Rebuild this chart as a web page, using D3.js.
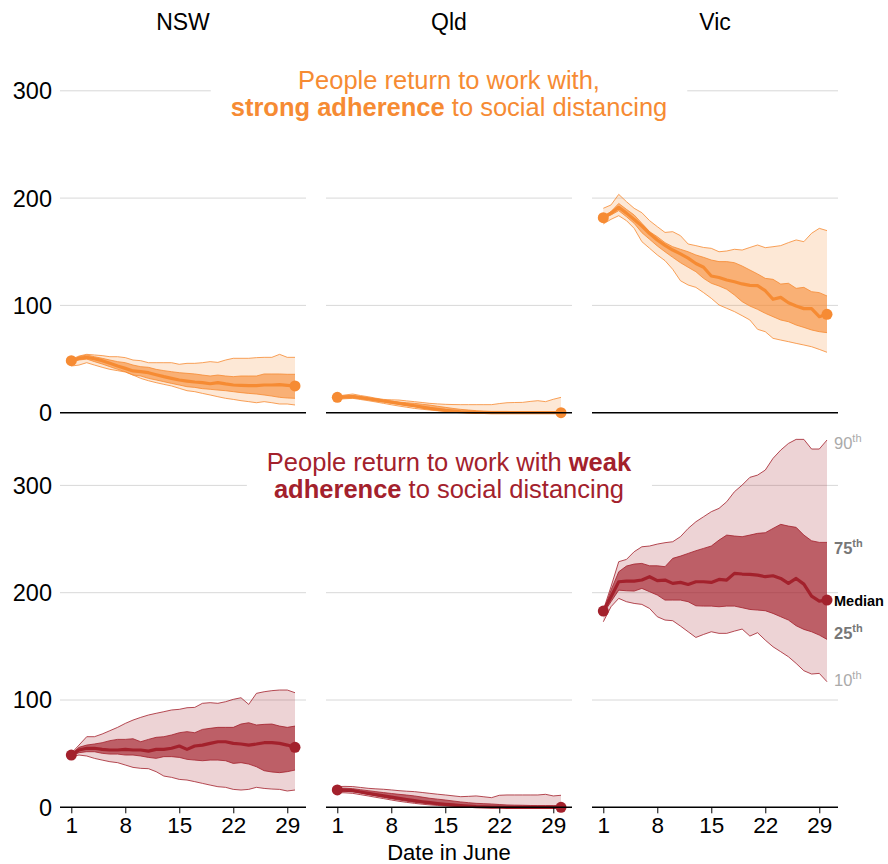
<!DOCTYPE html>
<html>
<head>
<meta charset="utf-8">
<script src="https://cdn.jsdelivr.net/npm/d3@7"></script>
<style>
  body { margin: 0; background: #fff; }
  svg text { font-family: "Liberation Sans", Arial, Helvetica, sans-serif; }
</style>
</head>
<body>
<div id="chart"></div>
<script>
// days in June
const days = [1,2,3,4,5,6,7,8,9,10,11,12,13,14,15,16,17,18,19,20,21,22,23,24,25,26,27,28,29,30];
const dayTicks = [1, 8, 15, 22, 29];
const yTicks = [0, 100, 200, 300];
const states = ["NSW", "Qld", "Vic"];

// strong adherence (top row)
const nswStrongP90 = [49.7,52.8,54.4,53.8,53.2,52.2,52.2,51.3,49.1,48.5,46.6,46.6,46.6,46.6,45.1,46,46,46.6,47.6,46.9,49.1,50.7,50.7,50.7,51.3,51.6,51.6,54.4,51.6,51.6];
const nswStrongP75 = [48.5,52.2,53.8,52.2,50.7,49.1,47.6,46.6,44.4,42.9,42.3,40.4,39.2,38.2,37.3,36.7,36.1,35.1,34.2,35.1,34.2,33.6,34.2,34.2,34.2,36.1,36.1,36.1,35.8,35.8];
const nswStrongMed = [48.5,50.7,51.6,50.3,48.5,46,43.5,41.3,38.9,38.2,37.3,35.4,33.6,32,30.5,29.5,28.6,28,27,28,26.8,25.8,25.5,25.2,25.2,25.8,25.8,26.1,25.5,24.9];
const nswStrongP25 = [46.6,49.1,50,47.6,45.4,42.9,40.4,38.2,35.1,34.2,32,30.5,28.9,27.3,25.8,24.2,23.6,22.4,21.8,21.1,20.5,19.6,18.7,18,17.4,16.5,15.5,14.3,13.7,13.4];
const nswStrongP10 = [43.5,44.4,46.6,44.4,42.3,40.4,39.2,37.9,35.1,32,29.8,28,26.4,24.9,22.7,20.5,19.6,18,16.5,14.9,13.4,12.4,11.2,10.3,9.3,10.3,9.3,8.1,8.1,7.2];

const qldStrongP90 = [15.5,16.5,17.4,16,14.9,13.5,12.4,12,11.8,11,10.3,9.5,8.7,8.2,7.8,7.6,7.5,7.5,7.5,7.5,7.5,8.5,9.3,9.5,9.6,10.5,11.2,10.3,12.5,14.3];
const qldStrongP75 = [14.9,15.6,16.2,15,14,12.9,11.8,10.8,9.9,9.3,8.7,7.9,7.1,6,5,4,3.1,2.5,1.9,1.5,1.2,1.2,1.2,1,0.9,0.9,0.9,0.8,0.7,0.6];
const qldStrongMed = [14.3,14.8,14.9,14,13,12,10.9,9.8,8.7,7.6,6.5,5.2,4,3.1,2.2,1.5,0.9,0.6,0.3,0.2,0.1,0,0,0,0,0,0,0,0,0];
const qldStrongP25 = [13.4,13.8,14,13,12.1,11,9.9,8.8,7.8,6.7,5.6,4.5,3.4,2.6,1.9,1.2,0.6,0.3,0,0,0,0,0,0,0,0,0,0,0,0];
const qldStrongP10 = [12.4,13,13.4,12.3,11.2,10,8.7,7.4,6.2,5.1,4,3.2,2.5,1.8,1.2,0.7,0.3,0,0,0,0,0,0,0,0,0,0,0,0,0];

const vicStrongP90 = [190.5,193.6,203.5,196.7,190.5,186.4,179,173.4,168,168.7,165,157.2,155.7,154,153.2,150,150.7,152.3,151.6,154,156.3,153.8,154.7,155.7,158.5,161,159.4,167.2,171.8,169.7];
const vicStrongP75 = [182.7,187.4,195,189.5,184.3,176.5,168.7,164,158.5,154.7,152.3,150,147,144.8,142.3,140.8,140.8,139.8,136.7,133,129.3,125.2,124.3,119.9,120.6,115.9,116.8,112.8,111.9,108.8];
const vicStrongMed = [181.7,186,191.4,186,180,174,167,161,156,151.6,148,144,139,135.5,127.4,126,123.7,122,120,118.7,118.4,113.7,105.7,107.5,102.5,99.4,97,97,89.5,91.7];
const vicStrongP25 = [181.1,184.3,188.3,182.7,176.5,167.8,161.6,155.4,150,144.8,139.8,135.5,131.4,125.2,120.6,118.1,115,109.7,103.5,99.4,96.3,92.6,89.5,86.4,84.8,81.7,79.5,77.1,75.5,74.6];
const vicStrongP10 = [175.9,180.2,183.6,179,171.8,159.4,153.2,147,141.7,133.6,123,119,116.8,111.9,106.6,100.4,97.3,94.2,90.4,86.4,77.7,75.5,69.3,67.7,66.2,64.6,63.1,61.5,59,56.3];

// weak adherence (bottom row)
const nswWeakP90 = [50.3,58,65.8,65.8,68.3,71.4,74.5,78.2,81.3,83.8,86,87.6,89.1,90.7,91.3,92.8,93.1,96.9,97.5,96.9,98.4,100.6,102.1,95.9,106.2,107.7,108.7,109.3,109.3,106.8];
const nswWeakP75 = [49.6,55.9,58,59,60.2,62.1,63.3,63.3,63.9,61.1,63.3,65.2,65.8,67.4,69.5,70.5,69.5,72.6,73.6,74.5,74.5,74.5,77.6,78.8,76.7,77.3,77.6,75.7,74.5,75.7];
const nswWeakMed = [48.7,53.4,55,55,54,53.4,53.4,54,53.4,53.4,52.4,54,54,55,57.1,54,57.1,58,59.6,61.1,61.1,59.6,59,58,59,60.2,60.2,59.6,58,55.9];
const nswWeakP25 = [47.8,50.9,51.8,51.8,50.3,49.6,49.6,48.7,48.7,47.8,46.5,45.6,47.2,47.2,46.5,44.7,44,43.4,44,44,43.4,40.9,41.6,40.3,37.8,34.1,32.9,32.3,33.2,34.7];
const nswWeakP10 = [47.2,48.7,47.8,45.6,44,42.5,41.6,39.4,37.2,36.3,36,33.2,29.1,27.9,26,25.4,23.9,22.3,20.7,19.2,18.6,16.7,16.1,16.7,18.6,17.6,17,16.7,15.2,16.1];

const qldWeakP90 = [19.3,19.5,19.3,18.5,17.7,17.2,16.8,16.2,15.5,15,14.6,13.8,13,12.2,11.5,10.7,9.9,10.2,10.6,9.8,9,11.2,11.5,11.5,11.5,11.5,11.5,12.1,10.6,11.2];
const qldWeakP75 = [17.7,17.8,17.4,16.4,15.5,14.6,13.7,12.9,12.1,11.4,10.6,9.5,8.4,7.6,6.8,5.9,5,4.3,3.7,3.4,3.1,2.6,2.2,2,1.9,1.7,1.6,1.6,1.6,1.6];
const qldWeakMed = [16.2,16,15.5,14.3,13,11.8,10.6,9.5,8.4,7.3,6.2,5.2,4.3,3.5,2.8,2.2,1.6,1.1,0.6,0.4,0.2,0.1,0,0,0,0,0,0,0,0];
const qldWeakP25 = [14.6,14.8,14.6,13.4,12.1,10.7,9.3,8,6.8,5.7,4.7,3.9,3.1,2.5,1.9,1.4,0.9,0.6,0.3,0.1,0,0,0,0,0,0,0,0,0,0];
const qldWeakP10 = [13.7,13.5,13,11.8,10.6,9.3,8.1,6.8,5.6,4.6,3.7,2.9,2.2,1.7,1.2,0.9,0.6,0.3,0.1,0,0,0,0,0,0,0,0,0,0,0];

const vicWeakP90 = [183.8,205.6,228.9,231,238.2,242.8,243.5,245.3,246.6,247.5,252.2,259.9,266.1,270.8,275.5,278.6,284.8,294.1,300.3,307.5,309.6,314.3,325.2,332.9,339.1,342.9,342.9,333.9,333.9,342.3];
const vicWeakP75 = [182.3,202.4,219.5,224.8,226.7,227.3,225.1,225.1,224.2,232,234.1,236.6,239.1,241.3,243.5,249,253.7,252.8,252.2,253.7,255.3,255.9,259.9,263.7,262.1,260.9,253.7,248.4,246.9,246.9];
const vicWeakMed = [182.9,196.2,210.2,210.8,210.8,211.8,214.9,211.2,211.8,208.7,209.6,207.7,210.2,210.2,209.6,212.4,211.8,218,217.4,217.1,216.4,214.9,215.8,213.3,208.7,213.3,208,196.8,192.2,193.1];
const vicWeakP25 = [180.7,191.6,202.4,201.8,201.5,204,200.9,197.8,193.1,193.1,193.1,191.6,187.8,187.5,187.5,186.9,187.5,187.5,186,184.4,183.8,183.2,180.7,177.6,174.5,169.2,165.8,163.6,160.5,156.5];
const vicWeakP10 = [172.9,186.9,194.7,191.6,190,189.1,185.3,177.6,174.5,173.9,168.9,163.6,158.3,161.1,163.6,162.1,162.1,164.2,166.1,159.6,162.7,155.8,149.6,145,140.3,134.1,127.3,124.2,124.8,117];

const strongRows = [
    [nswStrongP10, nswStrongP25, nswStrongMed, nswStrongP75, nswStrongP90],
    [qldStrongP10, qldStrongP25, qldStrongMed, qldStrongP75, qldStrongP90],
    [vicStrongP10, vicStrongP25, vicStrongMed, vicStrongP75, vicStrongP90]
];
const weakRows = [
    [nswWeakP10, nswWeakP25, nswWeakMed, nswWeakP75, nswWeakP90],
    [qldWeakP10, qldWeakP25, qldWeakMed, qldWeakP75, qldWeakP90],
    [vicWeakP10, vicWeakP25, vicWeakMed, vicWeakP75, vicWeakP90]
];

const width = 888, height = 864;
const panelX = [60, 326, 592], panelW = 246;
const orange = "#f68b33", red = "#a3212c";

let svg = d3.select("#chart").append("svg")
    .attr("width", width)
    .attr("height", height);

const xScales = panelX.map(x0 => d3.scaleLinear().domain([1, 30]).range([x0 + 11.3, x0 + 235]));
const yTop = d3.scaleLinear().domain([0, 300]).range([412.7, 90.8]);
const yBot = d3.scaleLinear().domain([0, 300]).range([807.3, 485.4]);

// column headers
svg.selectAll(".head")
    .data(states)
    .enter().append("text")
    .attr("x", (d, i) => panelX[i] + panelW / 2)
    .attr("y", 30)
    .attr("text-anchor", "middle")
    .style("font-size", "23px")
    .text(d => d);

function drawGrid(y) {
    panelX.forEach(x0 => {
        svg.append("g").selectAll("line")
            .data(yTicks.slice(1))
            .enter().append("line")
            .attr("x1", x0).attr("x2", x0 + panelW)
            .attr("y1", d => y(d)).attr("y2", d => y(d))
            .attr("stroke", "#d8d8d8")
            .attr("stroke-width", 1);
    });
    svg.append("g").selectAll("text")
        .data(yTicks)
        .enter().append("text")
        .attr("x", 52)
        .attr("y", d => y(d))
        .attr("dy", "0.36em")
        .attr("text-anchor", "end")
        .style("font-size", "23.5px")
        .text(d => d);
}
drawGrid(yTop);
drawGrid(yBot);

// titles with white box behind
function title(lines, y0, color) {
    let g = svg.append("g");
    let bg = g.append("rect").attr("fill", "#fff");
    let t = g.append("text")
        .attr("text-anchor", "middle")
        .style("font-size", "25.5px")
        .attr("fill", color);
    lines.forEach((parts, li) => {
        parts.forEach((p, pi) => {
            let ts = t.append("tspan").text(p[0]).style("font-weight", p[1] ? "bold" : "normal");
            if (pi === 0) ts.attr("x", 449).attr("y", y0 + li * 27);
        });
    });
    let bb = t.node().getBBox();
    bg.attr("x", bb.x - 20).attr("y", bb.y - 2).attr("width", bb.width + 40).attr("height", bb.height + 4);
}
title([[["People return to work with,", false]], [["strong adherence", true], [" to social distancing", false]]], 89, orange);
title([[["People return to work with ", false], ["weak", true]], [["adherence", true], [" to social distancing", false]]], 471, red);

function drawBands(rows, y, color, innerOp) {
    rows.forEach((series, i) => {
        let x = xScales[i];
        let g = svg.append("g");
        let band = (lo, hi) => d3.area()
            .x((d, j) => x(days[j]))
            .y0((d, j) => y(lo[j]))
            .y1((d, j) => y(hi[j]))(days);
        let line = s => d3.line()
            .x((d, j) => x(days[j]))
            .y((d, j) => y(s[j]))(days);
        g.append("path").attr("d", band(series[0], series[4]))
            .attr("fill", color).attr("fill-opacity", 0.2);
        g.append("path").attr("d", band(series[1], series[3]))
            .attr("fill", color).attr("fill-opacity", innerOp);
        [0, 1, 3, 4].forEach(k => {
            g.append("path").attr("d", line(series[k]))
                .attr("fill", "none").attr("stroke", color)
                .attr("stroke-width", 0.9).attr("stroke-opacity", 0.9);
        });
        g.append("path").attr("d", line(series[2]))
            .attr("fill", "none").attr("stroke", color)
            .attr("stroke-width", 3.2).attr("stroke-linejoin", "round");
        g.selectAll("circle")
            .data([0, 29])
            .enter().append("circle")
            .attr("cx", j => x(days[j]))
            .attr("cy", j => y(series[2][j]))
            .attr("r", 5.5)
            .attr("fill", color);
    });
}
drawBands(strongRows, yTop, orange, 0.6);
drawBands(weakRows, yBot, red, 0.65);

// baselines and x axes
panelX.forEach((x0, i) => {
    [yTop, yBot].forEach(y => {
        svg.append("line")
            .attr("x1", x0).attr("x2", x0 + panelW)
            .attr("y1", y(0)).attr("y2", y(0))
            .attr("stroke", "#000").attr("stroke-width", 1.5);
    });
    let ax = svg.append("g")
        .attr("transform", "translate(0," + yBot(0) + ")")
        .call(d3.axisBottom(xScales[i]).tickValues(dayTicks).tickSize(6).tickPadding(4));
    ax.select(".domain").remove();
    ax.selectAll("line").attr("stroke", "#000");
    ax.selectAll("text")
        .style("font-size", "22.5px")
        .style("font-family", "'Liberation Sans', Arial, sans-serif")
        .attr("fill", "#000");
});

svg.append("text")
    .attr("x", 449).attr("y", 860)
    .attr("text-anchor", "middle")
    .style("font-size", "22px")
    .text("Date in June");

// percentile labels on Vic weak panel
const vicWeak = weakRows[2];
const labelInfo = [
    { s: vicWeak[4], t: "90", sup: true, fill: "#aaa", bold: false, dy: 3 },
    { s: vicWeak[3], t: "75", sup: true, fill: "#777", bold: true, dy: 6 },
    { s: vicWeak[2], t: "Median", sup: false, fill: "#000", bold: true, dy: 1 },
    { s: vicWeak[1], t: "25", sup: true, fill: "#777", bold: true, dy: -6 },
    { s: vicWeak[0], t: "10", sup: true, fill: "#aaa", bold: false, dy: -2 }
];
labelInfo.forEach(l => {
    let t = svg.append("text")
        .attr("x", xScales[2](30) + 7)
        .attr("y", yBot(l.s[29]) + l.dy)
        .attr("dy", "0.35em")
        .attr("fill", l.fill)
        .style("font-weight", l.bold ? "bold" : "normal")
        .style("font-size", l.sup ? "16.5px" : "14.5px");
    t.append("tspan").text(l.t);
    if (l.sup) t.append("tspan").attr("dy", -7).style("font-size", "11px").text("th");
});
</script>
</body>
</html>
